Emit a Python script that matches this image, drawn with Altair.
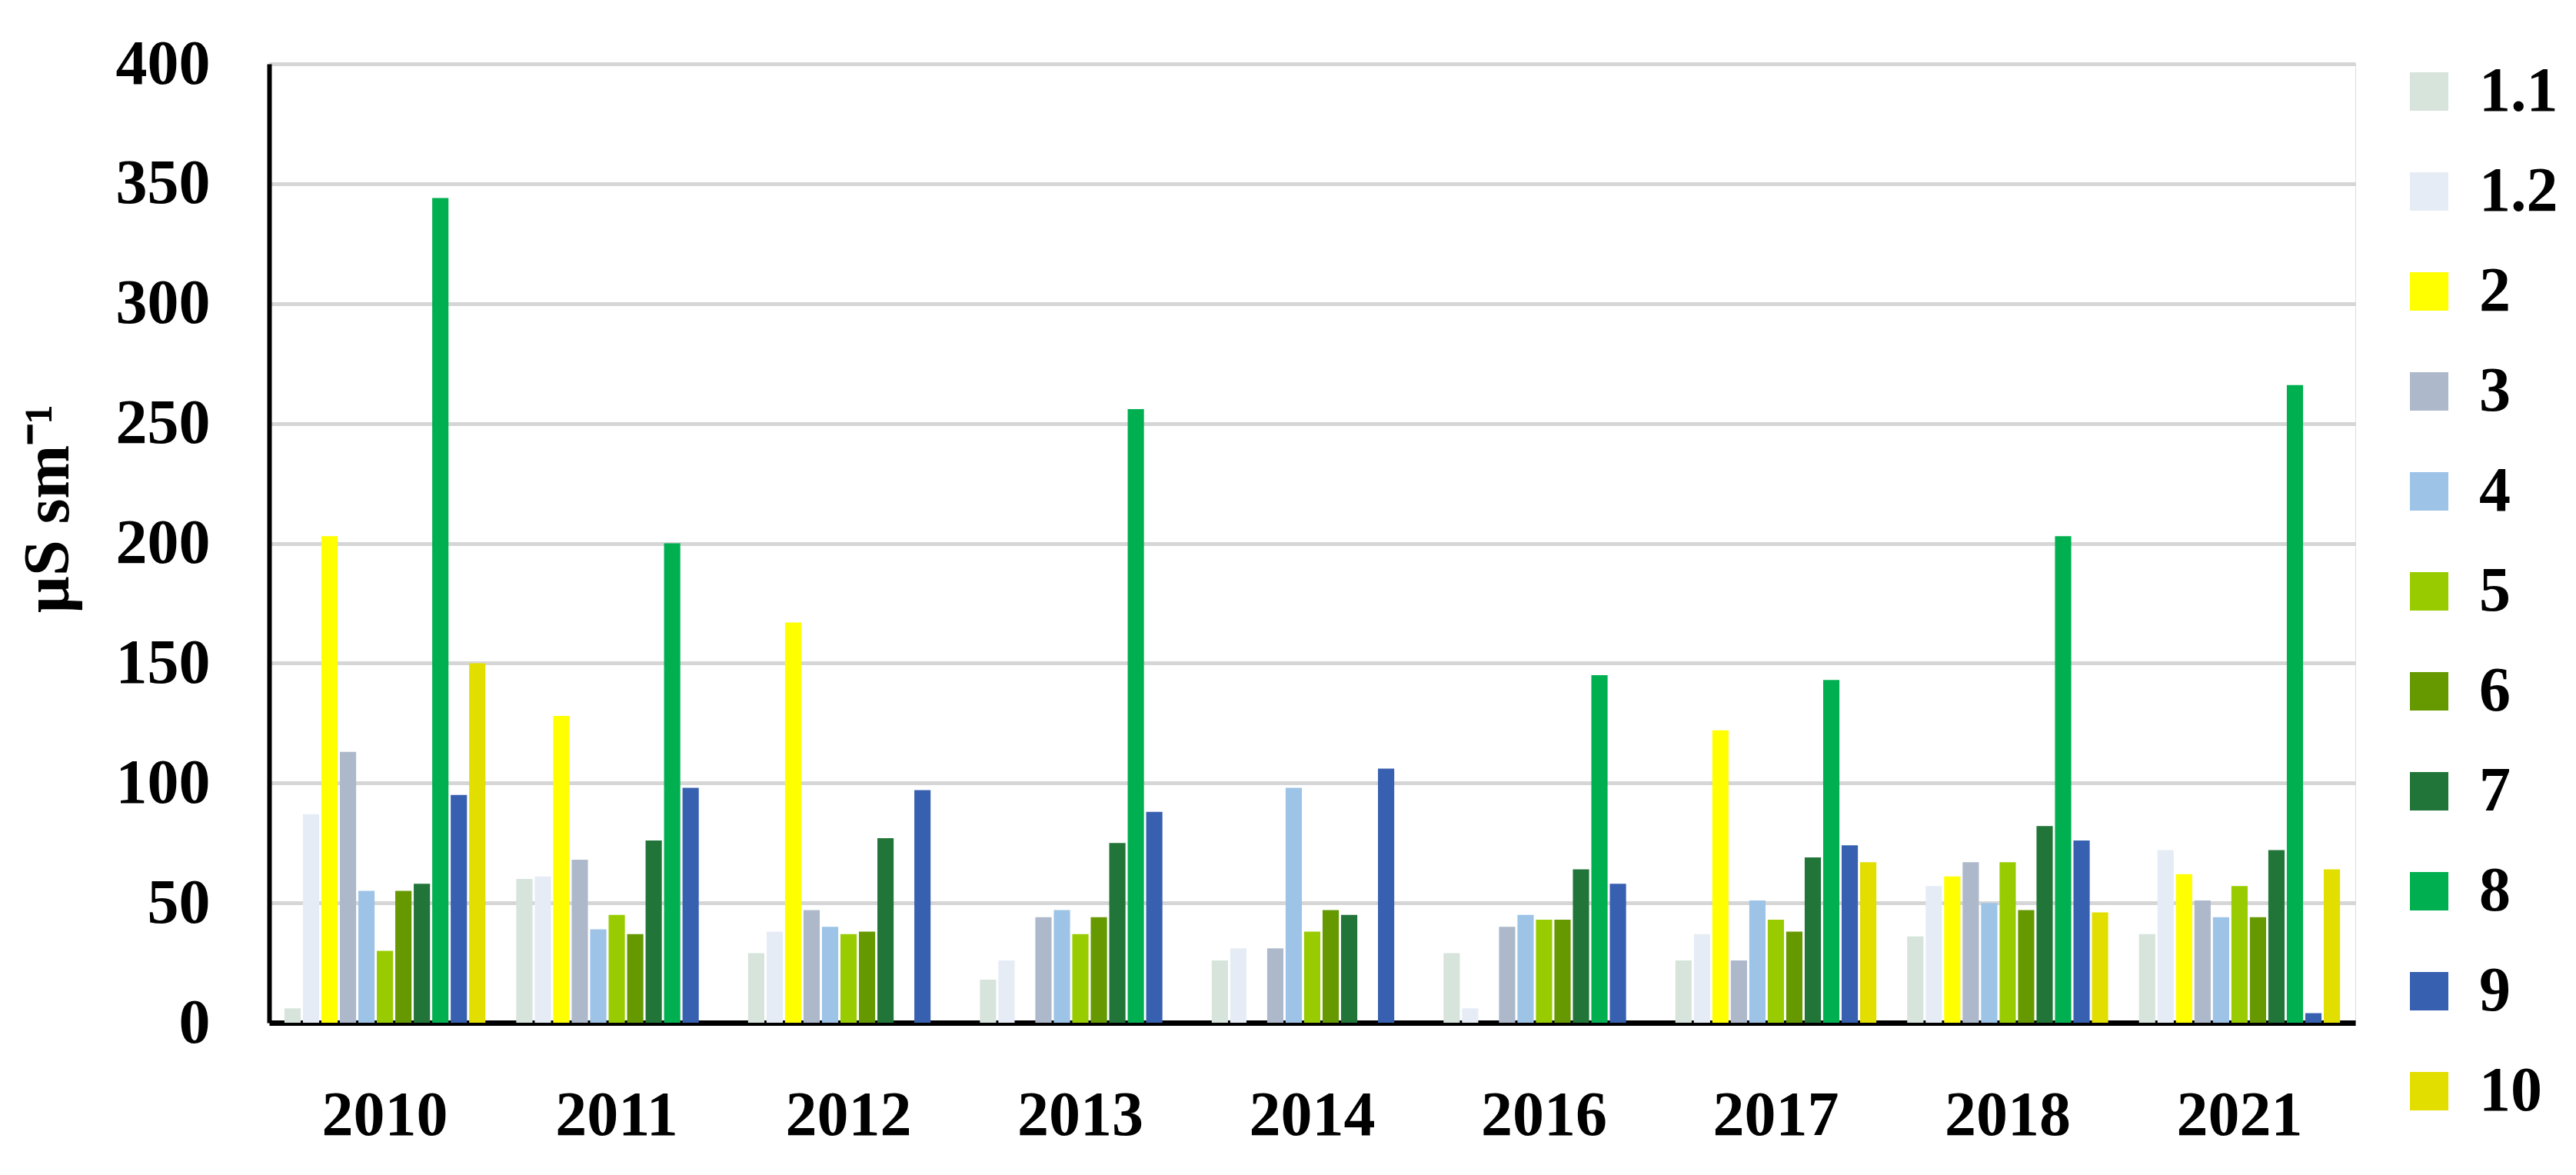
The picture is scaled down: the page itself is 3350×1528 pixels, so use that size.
import altair as alt
import pandas as pd

years = ["2010", "2011", "2012", "2013", "2014", "2016", "2017", "2018", "2021"]
series = ["1.1", "1.2", "2", "3", "4", "5", "6", "7", "8", "9", "10"]
colors = ["#d6e4dc", "#e6ecf6", "#ffff00", "#adb9ca", "#9dc3e6", "#99cc00",
          "#669900", "#217538", "#00b050", "#3860b0", "#e2de00"]

# values per year, in series order (None = no bar)
v2010 = [6, 87, 203, 113, 55, 30, 55, 58, 344, 95, 150]
v2011 = [60, 61, 128, 68, 39, 45, 37, 76, 200, 98, None]
v2012 = [29, 38, 167, 47, 40, 37, 38, 77, None, 97, None]
v2013 = [18, 26, None, 44, 47, 37, 44, 75, 256, 88, None]
v2014 = [26, 31, None, 31, 98, 38, 47, 45, None, 106, None]
v2016 = [29, 6, None, 40, 45, 43, 43, 64, 145, 58, None]
v2017 = [26, 37, 122, 26, 51, 43, 38, 69, 143, 74, 67]
v2018 = [36, 57, 61, 67, 50, 67, 47, 82, 203, 76, 46]
v2021 = [37, 72, 62, 51, 44, 57, 44, 72, 266, 4, 64]

all_vals = [v2010, v2011, v2012, v2013, v2014, v2016, v2017, v2018, v2021]
rows = []
for yr, vals in zip(years, all_vals):
    for s, v in zip(series, vals):
        if v is not None:
            rows.append({"year": yr, "site": s, "value": v})
df = pd.DataFrame(rows)

FONT = "Liberation Serif"

chart = alt.Chart(df).mark_bar().encode(
    x=alt.X("year:N", sort=years,
            scale=alt.Scale(paddingInner=0.133, paddingOuter=0.066),
            axis=alt.Axis(title=None, labelAngle=0, ticks=False, tickSize=0,
                          labelPadding=80, labelFont=FONT, labelFontWeight="bold",
                          labelFontSize=82, labelColor="black",
                          domainColor="black", domainWidth=7, grid=False)),
    xOffset=alt.XOffset("site:N", sort=series,
                        scale=alt.Scale(domain=series, paddingInner=0.12)),
    y=alt.Y("value:Q", scale=alt.Scale(domain=[0, 400], nice=False),
            axis=alt.Axis(title="µS sm⁻¹", values=[0, 50, 100, 150, 200, 250, 300, 350, 400],
                          ticks=False, tickSize=0, labelPadding=77,
                          labelFont=FONT, labelFontWeight="bold", labelFontSize=82,
                          labelColor="black", domainColor="black", domainWidth=6,
                          gridColor="#d6d6d6", gridWidth=5,
                          titleFont=FONT, titleFontWeight="bold", titleFontSize=84,
                          titleColor="black", titleAngle=270, titleX=-262, titleY=578,
                          titleAlign="center", titleBaseline="alphabetic")),
    color=alt.Color("site:N", sort=series,
                    scale=alt.Scale(domain=series, range=colors),
                    legend=alt.Legend(title=None, orient="none", legendX=2768, legendY=-5,
                                      padding=0, symbolType="square", symbolSize=2500,
                                      symbolStrokeWidth=0, labelFont=FONT,
                                      labelFontWeight="bold", labelFontSize=82,
                                      labelColor="black", labelOffset=24,
                                      rowPadding=48, labelLimit=400)),
).properties(
    width=2713, height=1247,
    autosize=alt.AutoSizeParams(type="none"),
    padding={"left": 342, "top": 75, "right": 270, "bottom": 170},
).configure_view(strokeWidth=0).configure(background="white")

chart.save("out.html", embed_options={"renderer": "svg", "actions": False})
